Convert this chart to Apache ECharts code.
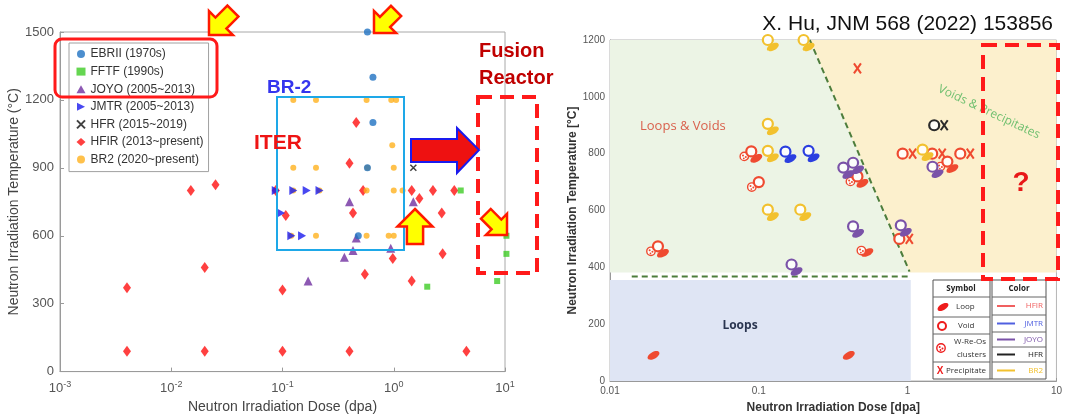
<!DOCTYPE html>
<html><head><meta charset="utf-8">
<script src="https://cdn.jsdelivr.net/npm/echarts@6/dist/echarts.min.js"></script>
<style>html,body{margin:0;padding:0;background:#fff}#c{width:1065px;height:419px}</style>
</head><body><div id="c"></div>
<script>
// ---------- LEFT PANEL DATA (dose dpa, temperature °C) ----------
const EBRII = [[0.58,1500],[0.65,1300],[0.65,1100],[0.58,900],[0.48,600]];
const FFTF  = [[2,375],[4,800],[8.5,400],[10.3,520],[10.3,600]];
const JOYO  = [[0.17,400],[0.36,505],[0.43,535],[0.46,590],[0.4,750],[0.94,545],[1.5,750]];
const JMTR  = [[0.087,800],[0.125,800],[0.165,800],[0.215,800],[0.097,700],[0.12,600],[0.15,600]];
const HFR   = [[1.5,900]];
const HFIR  = [[0.004,90],[0.02,90],[0.1,90],[0.4,90],[4.5,90],[0.004,370],[0.02,460],[0.1,360],
               [0.55,430],[1.45,400],[0.98,500],[2.75,520],[2.7,700],[0.43,700],[0.107,690],
               [1.45,800],[2.25,800],[3.5,800],[1.7,765],[0.53,800],[0.4,920],[0.46,1100],
               [0.015,800],[0.025,825],[0.087,800]];
const BR2   = [[0.125,1200],[0.2,1200],[0.57,1200],[0.95,1200],[1.05,1200],[0.97,1000],
               [0.125,900],[0.2,900],[0.58,900],[1.0,900],
               [0.125,800],[0.215,800],[0.57,800],[1.0,800],[1.2,800],
               [0.12,600],[0.2,600],[0.57,600],[0.9,600],[1.0,600]];
const legendNames = ['EBRII (1970s)','FFTF (1990s)','JOYO (2005~2013)','JMTR (2005~2013)','HFR (2015~2019)','HFIR (2013~present)','BR2 (2020~present)'];
const leftX = {min:0.001, max:10};
const leftY = {min:0, max:1500, interval:300};

// ---------- RIGHT PANEL DATA (dose, temp, features: L=loop V=void C=cluster X=precipitate) ----------
const HFIR_R = [[0.019,90,'L'],[0.39,90,'L'],[0.021,474,'LVC'],[0.089,808,'LVC'],[0.1,700,'VC'],
                [0.46,720,'LVC'],[0.52,452,'LC'],[0.46,1100,'X'],[1.0,800,'VX'],[1.58,800,'VX'],
                [2.44,800,'VX'],[0.95,500,'VX'],[1.85,772,'LVC']];
const JMTR_R = [[0.151,807,'LV'],[0.216,810,'LV']];
const JOYO_R = [[0.37,751,'LV'],[0.43,768,'LV'],[0.43,544,'LV'],[0.166,410,'LV'],[0.9,548,'LV'],[1.47,754,'LV']];
const HFR_R  = [[1.63,900,'VX']];
const BR2_R  = [[0.115,1200,'LV'],[0.2,1200,'LV'],[0.115,905,'LV'],[0.115,810,'LV'],[0.115,603,'LV'],[0.19,603,'LV'],[1.26,814,'LV']];
const loopsRegion  = [[0.01,0],[1.05,0],[1.05,355],[0.01,355]];
const voidsRegion  = [[0.01,382],[0.01,1200],[0.22,1200],[1.03,382]];
const precipRegion = [[0.22,1200],[10,1200],[10,382],[1.03,382]];
const diagBoundary = [[0.22,1200],[1.03,385]];
const horizBoundary= [[0.014,368],[1.0,368]];
const rightX = {min:0.01, max:10};
const rightY = {min:0, max:1200, interval:200};

const colR = {HFIR:'#ef4a30', JMTR:'#2b3fe0', JOYO:'#7a52a8', HFR:'#2a2a2a', BR2:'#f2c12e'};

function polySeries(verts, fill){
  return {type:'custom', xAxisIndex:1, yAxisIndex:1, silent:true, z:1, data:[0],
    renderItem:(p,api)=>({type:'polygon', shape:{points:verts.map(v=>api.coord(v))}, style:{fill:fill}})};
}
function lineSeries(verts){
  return {type:'custom', xAxisIndex:1, yAxisIndex:1, silent:true, z:2, data:[0],
    renderItem:(p,api)=>({type:'polyline', shape:{points:verts.map(v=>api.coord(v))},
      style:{stroke:'#4d7d3c', lineWidth:2, lineDash:[6,4], fill:null}})};
}
function voidC(x,y,c){return {type:'circle', shape:{cx:x,cy:y,r:5},
  style:{fill:'rgba(255,255,255,0.85)', stroke:c, lineWidth:2.2}};}
function cross(x,y,c){return {type:'group', children:[
  {type:'line', shape:{x1:x-3.5,y1:y-5,x2:x+3.5,y2:y+5}, style:{stroke:c,lineWidth:2}},
  {type:'line', shape:{x1:x+3.5,y1:y-5,x2:x-3.5,y2:y+5}, style:{stroke:c,lineWidth:2}}]};}
function cluster(x,y,c){return {type:'group', children:[
  {type:'circle', shape:{cx:x,cy:y,r:4.2}, style:{fill:'rgba(255,255,255,0.85)', stroke:c, lineWidth:1.4}},
  {type:'circle', shape:{cx:x-1.3,cy:y-1,r:1}, style:{fill:c}},
  {type:'circle', shape:{cx:x+1.5,cy:y+0.5,r:1}, style:{fill:c}},
  {type:'circle', shape:{cx:x-0.5,cy:y+2,r:0.9}, style:{fill:c}}]};}
function loopE(x,y,c,rx,ry){return {type:'ellipse', x:x, y:y, rotation:0.5, shape:{cx:0,cy:0,rx:rx,ry:ry}, style:{fill:c}};}
function glyphSeries(name, arr, c){
  return {type:'custom', name:name, xAxisIndex:1, yAxisIndex:1, z:5, data:arr.map(p=>[p[0],p[1]]),
    encode:{x:0,y:1},
    renderItem:(params,api)=>{
      const p = arr[params.dataIndex]; const pt = api.coord([api.value(0),api.value(1)]);
      const f = p[2], x = pt[0], y = pt[1], k = [];
      const V=f.includes('V'), L=f.includes('L'), C=f.includes('C'), X=f.includes('X');
      if (X && V){ k.push(voidC(x-5,y,c)); k.push(cross(x+5,y,c)); }
      else if (X){ k.push(cross(x,y,c)); }
      else {
        if (L) k.push(V ? loopE(x+5,y+7,c,6.5,3.4) : loopE(x+2,y,c,6.5,3.4));
        if (C) k.push(V ? cluster(x-7,y+5,c) : cluster(x-4,y-2,c));
        if (V) k.push(voidC(x,y,c));
      }
      return {type:'group', children:k};
    }};
}

// block arrow pointing up with tip at origin
function blockArrow(x,y,rot,s){
  const pts=[[0,0],[13,13],[6,13],[6,26],[-6,26],[-6,13],[-13,13]].map(p=>[p[0]*s,p[1]*s]);
  return {type:'polygon', x:x, y:y, rotation:rot, shape:{points:pts}, style:{fill:'#ffff00', stroke:'#ff1a00', lineWidth:2.5}, z:100};
}

const chart = echarts.init(document.getElementById('c'), null, {renderer:'canvas'});
const sup = v => { const e = Math.round(Math.log10(v)); return '{b|10}{s|' + e + '}'; };

const leftScatter = (name, data, symbol, size, color, extra) => Object.assign({
  type:'scatter', name:name, xAxisIndex:0, yAxisIndex:0, data:data, symbol:symbol, symbolSize:size,
  itemStyle:{color:color}, z:4}, extra||{});

const option = {
  animation:false,
  backgroundColor:'#fff',
  grid:[
    {left:60, top:32, width:445, height:347, show:true, borderColor:'#a8a8a8', borderWidth:1, backgroundColor:'transparent'},
    {left:610, top:40, width:450, height:342, show:true, borderColor:'#b5b5b5', borderWidth:1, backgroundColor:'transparent'}
  ],
  xAxis:[
    {type:'log', gridIndex:0, min:leftX.min, max:leftX.max, logBase:10,
     axisLine:{lineStyle:{color:'#9a9a9a'}}, axisTick:{inside:true, length:4, lineStyle:{color:'#9a9a9a'}},
     splitLine:{show:false},
     axisLabel:{formatter:sup, color:'#555', margin:8,
       rich:{b:{fontSize:13, color:'#555', fontFamily:'Liberation Sans'}, s:{fontSize:9, color:'#555', padding:[0,0,9,0], fontFamily:'Liberation Sans'}}},
     name:'Neutron Irradiation Dose (dpa)', nameLocation:'middle', nameGap:23,
     nameTextStyle:{fontSize:14, color:'#444', fontFamily:'Liberation Sans'}},
    {type:'log', gridIndex:1, min:rightX.min, max:rightX.max, logBase:10,
     axisLine:{lineStyle:{color:'#999'}}, axisTick:{inside:true, length:3, lineStyle:{color:'#999'}},
     splitLine:{show:false},
     axisLabel:{formatter:v=>String(+v.toPrecision(3)), color:'#555', fontSize:10, margin:5, fontFamily:'Liberation Sans'},
     name:'Neutron Irradiation Dose [dpa]', nameLocation:'middle', nameGap:21,
     nameTextStyle:{fontSize:12, fontWeight:'bold', color:'#333', fontFamily:'Liberation Sans'}}
  ],
  yAxis:[
    {type:'value', gridIndex:0, min:leftY.min, max:leftY.max, interval:leftY.interval,
     axisLine:{show:true, lineStyle:{color:'#9a9a9a'}}, axisTick:{show:true, inside:true, length:4, lineStyle:{color:'#9a9a9a'}},
     splitLine:{show:false},
     axisLabel:{formatter:v=>String(v), color:'#555', fontSize:13, margin:6, fontFamily:'Liberation Sans'},
     name:'Neutron Irradiation Temperature (°C)', nameLocation:'middle', nameGap:36,
     nameTextStyle:{fontSize:14, color:'#444', fontFamily:'Liberation Sans'}},
    {type:'value', gridIndex:1, min:rightY.min, max:rightY.max, interval:rightY.interval,
     axisLine:{show:true, lineStyle:{color:'#999'}}, axisTick:{show:true, inside:true, length:3, lineStyle:{color:'#999'}},
     splitLine:{show:false},
     axisLabel:{formatter:v=>String(v), color:'#555', fontSize:10, margin:5, fontFamily:'Liberation Sans'},
     name:'Neutron Irradiation Temperature [°C]', nameLocation:'middle', nameGap:28,
     nameTextStyle:{fontSize:12, fontWeight:'bold', color:'#333', fontFamily:'Liberation Sans'}}
  ],
  legend:{data:legendNames, orient:'vertical', left:69, top:43, itemWidth:9, itemHeight:8, itemGap:5.6,
    padding:[5,5,6,7], borderColor:'#a0a0a0', borderWidth:1, backgroundColor:'#fff',
    textStyle:{fontSize:12, color:'#333', fontFamily:'Liberation Sans'}, selectedMode:false},
  series:[
    leftScatter(legendNames[5], HFIR, 'diamond', [8,11], '#ff1010'),
    leftScatter(legendNames[2], JOYO, 'triangle', 9, '#7030a0'),
    leftScatter(legendNames[6], BR2, 'circle', 6, '#ffb21e'),
    leftScatter(legendNames[3], JMTR, 'path://M0,0L10,5L0,10Z', [8,9], '#1a1aee'),
    leftScatter(legendNames[0], EBRII, 'circle', 7, '#1f72c2'),
    leftScatter(legendNames[1], FFTF, 'rect', 6, '#3fcc25', {clip:false}),
    leftScatter(legendNames[4], HFR, 'path://M0,0L10,10M10,0L0,10', 6, '#111', {itemStyle:{color:'#111', borderColor:'#111', borderWidth:1.5}}),
    polySeries(loopsRegion, '#dfe5f4'),
    polySeries(voidsRegion, '#ecf4e5'),
    polySeries(precipRegion, '#fcf0cd'),
    lineSeries(diagBoundary),
    lineSeries(horizBoundary),
    glyphSeries('HFIR-r', HFIR_R, colR.HFIR),
    glyphSeries('JMTR-r', JMTR_R, colR.JMTR),
    glyphSeries('JOYO-r', JOYO_R, colR.JOYO),
    glyphSeries('HFR-r', HFR_R, colR.HFR),
    glyphSeries('BR2-r', BR2_R, colR.BR2)
  ],
  graphic:[
    // left panel annotations
    {type:'rect', shape:{x:55,y:39,width:162,height:58,r:7}, style:{fill:null, stroke:'#ff1a1a', lineWidth:3}, z:100},
    {type:'rect', shape:{x:277,y:97,width:127,height:153}, style:{fill:null, stroke:'#1ea8e8', lineWidth:2}, z:100},
    {type:'rect', shape:{x:478,y:97,width:59,height:176}, style:{fill:null, stroke:'#ff1a1a', lineWidth:4, lineDash:[14,8]}, z:100},
    {type:'text', x:267, y:88, style:{text:'BR-2', fill:'#3535ee', font:'bold 19px "Liberation Sans"', verticalAlign:'middle'}, z:100},
    {type:'text', x:254, y:143, style:{text:'ITER', fill:'#ee1414', font:'bold 21px "Liberation Sans"', verticalAlign:'middle'}, z:100},
    {type:'text', x:479, y:51, style:{text:'Fusion', fill:'#c00000', font:'bold 20px "Liberation Sans"', verticalAlign:'middle'}, z:100},
    {type:'text', x:479, y:78, style:{text:'Reactor', fill:'#c00000', font:'bold 20px "Liberation Sans"', verticalAlign:'middle'}, z:100},
    {type:'polygon', shape:{points:[[411,139],[457,139],[457,128],[479,150],[457,173],[457,162],[411,162]]},
     style:{fill:'#ee1111', stroke:'#1a1aee', lineWidth:2}, z:100},
    blockArrow(209,35,3*Math.PI/4,1.3),
    blockArrow(374,33,3*Math.PI/4,1.2),
    blockArrow(415,209,0,1.35),
    blockArrow(507,235,-3*Math.PI/4,1.15),
    // right panel annotations
    {type:'text', x:1053, y:24, style:{text:'X. Hu, JNM 568 (2022) 153856', fill:'#111', font:'21px "Liberation Sans"', align:'right', verticalAlign:'middle'}, z:100},
    {type:'text', x:640, y:126, style:{text:'Loops & Voids', fill:'#d9604c', font:'13px "Open Sans"', verticalAlign:'middle'}, z:100},
    {type:'text', x:740, y:326, style:{text:'Loops', fill:'#2a3550', font:'bold 12px "Open Sans"', align:'center', verticalAlign:'middle'}, z:100},
    {type:'text', x:989, y:112, rotation:-0.44, style:{text:'Voids & Precipitates', fill:'#6fbf6f', font:'12px "Open Sans"', align:'center', verticalAlign:'middle'}, z:100},
    {type:'rect', shape:{x:983,y:45,width:75,height:234}, style:{fill:null, stroke:'#ff1a1a', lineWidth:4, lineDash:[14,8]}, z:100},
    {type:'text', x:1021, y:183, style:{text:'?', fill:'#e81818', font:'bold 28px "Liberation Sans"', align:'center', verticalAlign:'middle'}, z:100},
    // symbol / color table
    {type:'group', z:100, children:[
      {type:'rect', shape:{x:933,y:280,width:113,height:99}, style:{fill:'#fff', stroke:'#555', lineWidth:1}},
      {type:'line', shape:{x1:990,y1:280,x2:990,y2:379}, style:{stroke:'#555', lineWidth:1}},
      {type:'line', shape:{x1:992,y1:280,x2:992,y2:379}, style:{stroke:'#555', lineWidth:1}},
      ...[297,317,334,362].map(y=>({type:'line', shape:{x1:933,y1:y,x2:990,y2:y}, style:{stroke:'#666', lineWidth:1}})),
      ...[297,315,332,347,362].map(y=>({type:'line', shape:{x1:992,y1:y,x2:1046,y2:y}, style:{stroke:'#666', lineWidth:1}})),
      {type:'text', x:961, y:289, style:{text:'Symbol', fill:'#222', font:'bold 8px "Open Sans"', align:'center', verticalAlign:'middle'}},
      {type:'text', x:1019, y:289, style:{text:'Color', fill:'#222', font:'bold 8px "Open Sans"', align:'center', verticalAlign:'middle'}},
      {type:'ellipse', x:943, y:307, rotation:0.5, shape:{cx:0,cy:0,rx:6,ry:3}, style:{fill:'#ee1c1c'}},
      {type:'text', x:956, y:307, style:{text:'Loop', fill:'#333', font:'8px "Open Sans"', verticalAlign:'middle'}},
      {type:'circle', shape:{cx:942,cy:326,r:4}, style:{fill:'#fff', stroke:'#ee1c1c', lineWidth:2}},
      {type:'text', x:958, y:326, style:{text:'Void', fill:'#333', font:'8px "Open Sans"', verticalAlign:'middle'}},
      cluster(941,348,'#ee1c1c'),
      {type:'text', x:986, y:342, style:{text:'W-Re-Os', fill:'#333', font:'8px "Open Sans"', align:'right', verticalAlign:'middle'}},
      {type:'text', x:986, y:355, style:{text:'clusters', fill:'#333', font:'8px "Open Sans"', align:'right', verticalAlign:'middle'}},
      {type:'text', x:940, y:371, style:{text:'X', fill:'#ee1c1c', font:'bold 10px "Liberation Sans"', align:'center', verticalAlign:'middle'}},
      {type:'text', x:946, y:371, style:{text:'Precipitate', fill:'#333', font:'8px "Open Sans"', verticalAlign:'middle'}},
      ...[['HFIR','#f06060',306],['JMTR','#5060e0',323.5],['JOYO','#7a52a8',339.5],['HFR','#222',354.5],['BR2','#f2c12e',370.5]].flatMap(r=>[
        {type:'line', shape:{x1:997,y1:r[2],x2:1015,y2:r[2]}, style:{stroke:r[1], lineWidth:2}},
        {type:'text', x:1043, y:r[2], style:{text:r[0], fill:r[1], font:'8px "Open Sans"', align:'right', verticalAlign:'middle'}}])
    ]}
  ]
};
chart.setOption(option);
</script></body></html>
